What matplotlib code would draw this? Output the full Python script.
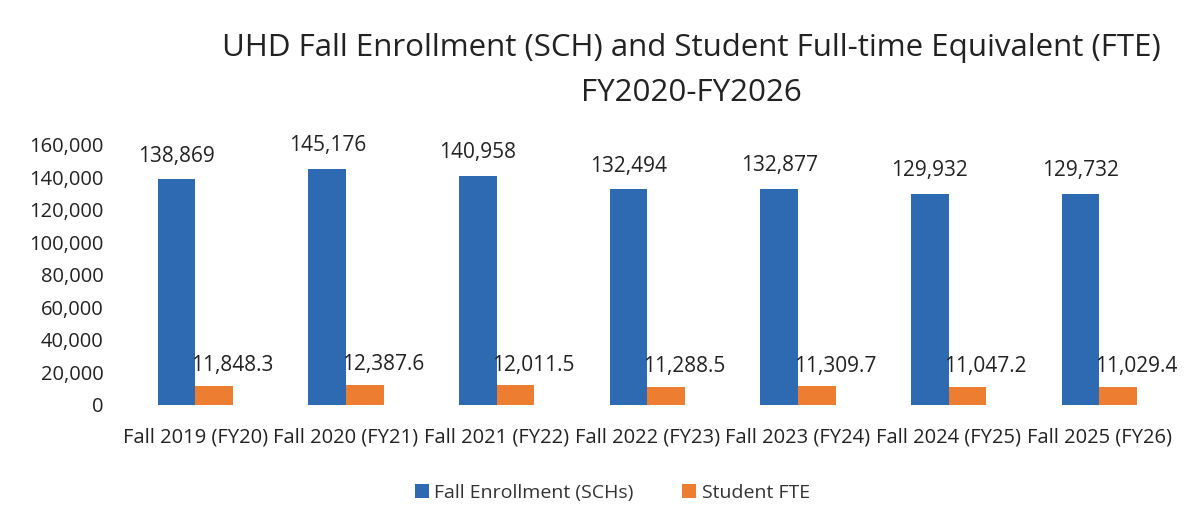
import numpy as np
import matplotlib.pyplot as plt
from matplotlib.ticker import FuncFormatter

plt.rcParams['font.family'] = ['Open Sans', 'DejaVu Sans']

categories = ['Fall 2019 (FY20)', 'Fall 2020 (FY21)', 'Fall 2021 (FY22)', 'Fall 2022 (FY23)',
              'Fall 2023 (FY24)', 'Fall 2024 (FY25)', 'Fall 2025 (FY26)']
enrollment = [138869, 145176, 140958, 132494, 132877, 129932, 129732]
fte = [11848.3, 12387.6, 12011.5, 11288.5, 11309.7, 11047.2, 11029.4]

blue = '#2D6AB1'
orange = '#ED7D31'

fig = plt.figure(figsize=(12.01, 5.08), dpi=100)
ax = fig.add_axes([0.1, 0.203, 0.878, 0.512])

x = np.arange(len(categories))
w = 0.25
b1 = ax.bar(x - w / 2, enrollment, w, color=blue, label='Fall Enrollment (SCHs)')
b2 = ax.bar(x + w / 2, fte, w, color=orange, label='Student FTE')

for rect, v in zip(b1, enrollment):
    ax.annotate(f'{v:,}', (rect.get_x() + rect.get_width() / 2, v), xytext=(0, 9),
                textcoords='offset points', ha='center', va='bottom', fontsize=15, color='#222222')
for rect, v in zip(b2, fte):
    ax.annotate(f'{v:,.1f}', (rect.get_x() + rect.get_width() / 2 + 0.12, v), xytext=(0, 7),
                textcoords='offset points', ha='center', va='bottom', fontsize=15, color='#222222')

ax.set_ylim(0, 160000)
ax.set_yticks(np.arange(0, 160001, 20000))
ax.yaxis.set_major_formatter(FuncFormatter(lambda v, p: f'{int(v):,}'))
ax.set_xlim(-0.5, len(categories) - 0.5)
ax.set_xticks(x)
ax.set_xticklabels(categories)
ax.tick_params(axis='both', length=0, labelsize=14.5, colors='#222222')
ax.tick_params(axis='x', pad=16, labelsize=14.5)
ax.tick_params(axis='y', pad=12)
for s in ax.spines.values():
    s.set_visible(False)

fig.suptitle('UHD Fall Enrollment (SCH) and Student Full-time Equivalent (FTE)\nFY2020-FY2026',
             x=0.576, y=0.935, fontsize=22.5, color='#222222', linespacing=1.65)

fig.legend(loc='center', bbox_to_anchor=(0.51, 0.03), ncol=2, frameon=False, fontsize=14,
           handlelength=0.7, handleheight=0.7, handletextpad=0.3, columnspacing=2.5,
           labelcolor='#333333')

fig.savefig('out.png', dpi=100, facecolor='white')
